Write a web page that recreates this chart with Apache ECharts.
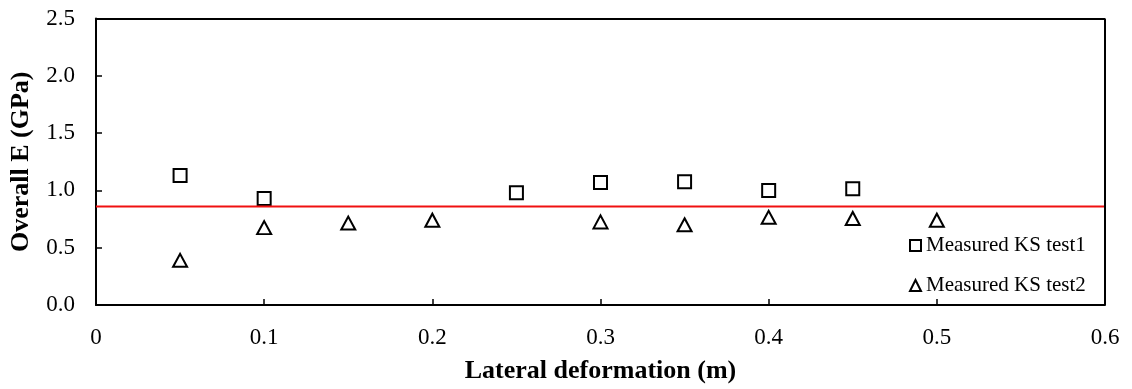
<!DOCTYPE html>
<html>
<head>
<meta charset="utf-8">
<script src="https://cdn.jsdelivr.net/npm/echarts@6/dist/echarts.min.js"></script>
<style>
  html, body { margin: 0; padding: 0; background: #fff; }
  #main { width: 1132px; height: 389px; }
</style>
</head>
<body>
<div id="main"></div>
<script type="text/javascript">
    // measured points
    var test1X = [0.05, 0.1, 0.25, 0.3, 0.35, 0.4, 0.45];
    var test1Y = [1.13, 0.93, 0.98, 1.07, 1.075, 1.0, 1.015];
    var test2X = [0.05, 0.1, 0.15, 0.2, 0.3, 0.35, 0.4, 0.45, 0.5];
    var test2Y = [0.39, 0.675, 0.715, 0.74, 0.725, 0.70, 0.765, 0.755, 0.74];
    var avgE = 0.86;
    var xTicks = [0, 0.1, 0.2, 0.3, 0.4, 0.5, 0.6];
    var yTicks = [0.0, 0.5, 1.0, 1.5, 2.0, 2.5];

    var myChart = echarts.init(document.getElementById('main'));
    var font = '"Liberation Serif", "Times New Roman", serif';

    function pairs(xs, ys) {
        var out = [];
        for (var i = 0; i < xs.length; i++) out.push([xs[i], ys[i]]);
        return out;
    }

    var option = {
        backgroundColor: '#fff',
        animation: false,
        grid: { left: 93, right: 27, top: 18.5, bottom: 80 },
        legend: {
            orient: 'vertical',
            left: 904, top: 230,
            itemWidth: 11, itemHeight: 11, itemGap: 19,
            data: ['Measured KS test1', 'Measured KS test2'],
            textStyle: { fontFamily: font, fontSize: 21, color: '#000' }
        },
        xAxis: {
            type: 'value', min: 0, max: 0.6, interval: 0.1,
            name: 'Lateral deformation (m)', nameLocation: 'middle', nameGap: 53,
            nameTextStyle: { fontFamily: font, fontSize: 26, fontWeight: 'bold', color: '#000' },
            axisLine: { show: true, lineStyle: { color: '#000', width: 2 } },
            axisTick: { show: true, inside: true, length: 6, lineStyle: { color: '#000', width: 1.5 } },
            axisLabel: {
                color: '#000', fontFamily: font, fontSize: 23, margin: 21,
                formatter: function (v) { return xTicks.indexOf(+v.toFixed(1)) > -1 ? (v === 0 ? '0' : v.toFixed(1)) : ''; }
            },
            splitLine: { show: false }
        },
        yAxis: {
            type: 'value', min: 0, max: 2.5, interval: 0.5,
            name: 'Overall E (GPa)', nameLocation: 'middle', nameGap: 62,
            nameTextStyle: { fontFamily: font, fontSize: 26, fontWeight: 'bold', color: '#000' },
            axisLine: { show: true, lineStyle: { color: '#000', width: 2 } },
            axisTick: { show: true, inside: true, length: 6, lineStyle: { color: '#000', width: 1.5 } },
            axisLabel: {
                color: '#000', fontFamily: font, fontSize: 23, margin: 21,
                formatter: function (v) { return yTicks.indexOf(+v.toFixed(1)) > -1 ? v.toFixed(1) : ''; }
            },
            splitLine: { show: false }
        },
        series: [
            {
                name: 'Measured KS test1', type: 'scatter',
                symbol: 'rect', symbolSize: 13,
                itemStyle: { color: '#fff', borderColor: '#000', borderWidth: 2, opacity: 1 },
                data: pairs(test1X, test1Y)
            },
            {
                name: 'Measured KS test2', type: 'scatter',
                symbol: 'triangle', symbolSize: [14, 13],
                itemStyle: { color: '#fff', borderColor: '#000', borderWidth: 2, opacity: 1 },
                data: pairs(test2X, test2Y)
            },
            {
                name: 'avg', type: 'line', symbol: 'none',
                lineStyle: { color: '#f01010', width: 2 },
                data: [[0, avgE], [0.6, avgE]],
                // top and right frame of the plot box
                markLine: {
                    silent: true, symbol: 'none',
                    lineStyle: { color: '#000', width: 2, type: 'solid' },
                    label: { show: false },
                    data: [
                        [{ coord: [0, 2.5] }, { coord: [0.6, 2.5] }],
                        [{ coord: [0.6, 0] }, { coord: [0.6, 2.5] }]
                    ]
                }
            }
        ]
    };
    myChart.setOption(option);
</script>
</body>
</html>
